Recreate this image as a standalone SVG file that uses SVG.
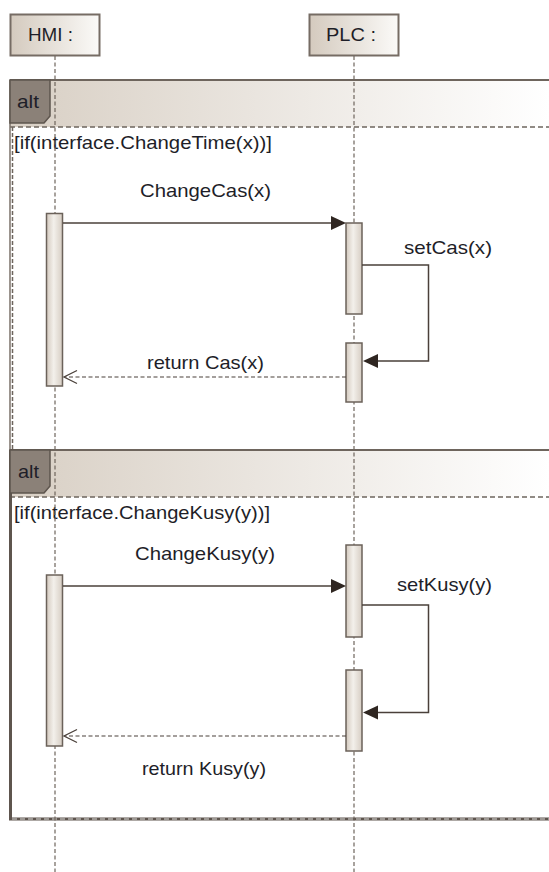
<svg xmlns="http://www.w3.org/2000/svg" width="549" height="872" viewBox="0 0 549 872">
<style>
text{font-family:"Liberation Sans",Arial,sans-serif;font-size:19px;fill:#1e1e28}
.head{stroke:#766c64;stroke-width:2;fill:url(#headGrad)}
.life{stroke:#6e655d;stroke-width:1.2;stroke-dasharray:4 2.5;fill:none}
.bar{stroke:#6b625a;stroke-width:1.5;fill:url(#barGrad)}
.band{fill:url(#bandGrad)}
.ftop{stroke:#6e655d;stroke-width:2;fill:none}
.fdash{stroke:#6e655d;stroke-width:1.5;stroke-dasharray:5 3;fill:none}
.tab{fill:#8b8178;stroke:#5e554e;stroke-width:1.5}
.msg{stroke:#4a403a;stroke-width:1.5;fill:none}
.ret{stroke:#4a403a;stroke-width:1.2;stroke-dasharray:4 2.5;fill:none}
.ah{fill:#2f2621}
.oh{fill:none;stroke:#4a403a;stroke-width:1.3}
</style>
<defs>
<linearGradient id="headGrad" x1="0" y1="0" x2="1" y2="0">
<stop offset="0" stop-color="#d4cabe"/><stop offset="1" stop-color="#fbfaf8"/>
</linearGradient>
<linearGradient id="bandGrad" gradientUnits="userSpaceOnUse" x1="10" y1="0" x2="549" y2="0">
<stop offset="0" stop-color="#d8cfc4"/><stop offset="1" stop-color="#ffffff"/>
</linearGradient>
<linearGradient id="barGrad" x1="0" y1="0" x2="1" y2="0">
<stop offset="0" stop-color="#d3c9be"/><stop offset="0.45" stop-color="#f3f0eb"/><stop offset="1" stop-color="#d6cdc3"/>
</linearGradient>
</defs>

<g id="frame1">
<rect class="band" x="10" y="80" width="539" height="47"/>
<line class="ftop" x1="10" y1="80" x2="549" y2="80"/>
<line class="fdash" x1="10" y1="127" x2="549" y2="127"/>
<line x1="10" y1="80" x2="10" y2="450" stroke="#7a7069" stroke-width="1.5"/>
<line x1="12.5" y1="127" x2="12.5" y2="450" stroke="#6e655d" stroke-width="1.5" stroke-dasharray="4 2"/>
<path class="tab" d="M10,80 H50 V116 L44,123 H10 Z"/>
<text x="17" y="108" textLength="22" lengthAdjust="spacingAndGlyphs">alt</text>
<text x="14" y="149" textLength="258" lengthAdjust="spacingAndGlyphs">[if(interface.ChangeTime(x))]</text>
</g>

<g id="frame2">
<rect class="band" x="10" y="450" width="539" height="47"/>
<line class="ftop" x1="10" y1="450" x2="549" y2="450"/>
<line class="fdash" x1="10" y1="497" x2="549" y2="497"/>
<line x1="10.5" y1="450" x2="10.5" y2="820" stroke="#5e554e" stroke-width="3"/>
<line x1="9" y1="819" x2="549" y2="819" stroke="#5e554e" stroke-width="3"/>
<line x1="12" y1="819" x2="549" y2="819" stroke="#ffffff" stroke-width="0.8" stroke-dasharray="5 3"/>
<path class="tab" d="M10,450 H50 V486 L44,493 H10 Z"/>
<text x="18" y="478" textLength="21" lengthAdjust="spacingAndGlyphs">alt</text>
<text x="14" y="519" textLength="256" lengthAdjust="spacingAndGlyphs">[if(interface.ChangeKusy(y))]</text>
</g>

<g id="HMI">
<rect class="head" x="10.5" y="14.5" width="89" height="41"/>
<text x="28" y="41" textLength="45" lengthAdjust="spacingAndGlyphs">HMI :</text>
<line class="life" x1="55" y1="56" x2="55" y2="872"/>
</g>

<g id="PLC">
<rect class="head" x="309.5" y="14.5" width="89" height="41"/>
<text x="326" y="41" textLength="50" lengthAdjust="spacingAndGlyphs">PLC :</text>
<line class="life" x1="354" y1="56" x2="354" y2="872"/>
</g>

<g id="activations">
<rect class="bar" x="46.5" y="213.5" width="16" height="172.5"/>
<rect class="bar" x="346" y="223" width="16" height="91"/>
<rect class="bar" x="346" y="343" width="16" height="59"/>
<rect class="bar" x="46.5" y="575" width="16" height="171"/>
<rect class="bar" x="346" y="545" width="16" height="92"/>
<rect class="bar" x="346" y="670" width="16" height="81"/>
</g>

<g id="connectors">
<path class="msg" d="M63,223 H334"/>
<path class="ah" d="M331,216 L346,223 L331,230 Z"/>
<path class="msg" d="M362,265 H428.5 V361 H376"/>
<path class="ah" d="M378,354 L363,361 L378,368 Z"/>
<path class="ret" d="M346,377 H65"/>
<path class="oh" d="M77,370.5 L64,377 L77,383.5"/>
<path class="msg" d="M63,586 H334"/>
<path class="ah" d="M331,579 L346,586 L331,593 Z"/>
<path class="msg" d="M362,605 H428.5 V712.5 H376"/>
<path class="ah" d="M378,705.5 L363,712.5 L378,719.5 Z"/>
<path class="ret" d="M346,736 H65"/>
<path class="oh" d="M77,729.5 L64,736 L77,742.5"/>
</g>

<g id="labels">
<text x="140" y="197" textLength="131" lengthAdjust="spacingAndGlyphs">ChangeCas(x)</text>
<text x="404" y="254" textLength="88" lengthAdjust="spacingAndGlyphs">setCas(x)</text>
<text x="147" y="369" textLength="117" lengthAdjust="spacingAndGlyphs">return Cas(x)</text>
<text x="135" y="560" textLength="140" lengthAdjust="spacingAndGlyphs">ChangeKusy(y)</text>
<text x="397" y="591" textLength="95" lengthAdjust="spacingAndGlyphs">setKusy(y)</text>
<text x="142" y="775" textLength="124" lengthAdjust="spacingAndGlyphs">return Kusy(y)</text>
</g>
</svg>
